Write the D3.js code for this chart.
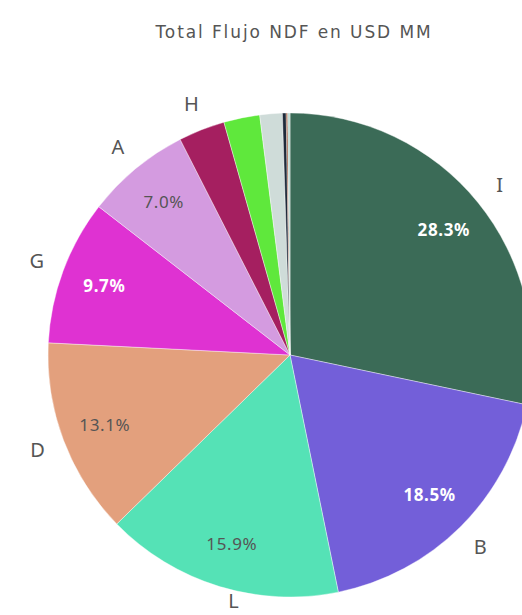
<!DOCTYPE html>
<html><head><meta charset="utf-8">
<script src="https://cdn.jsdelivr.net/npm/d3@7"></script>
<style>body{margin:0;background:#fff;overflow:hidden}svg{display:block}</style>
</head><body>
<svg id="c" width="522" height="615"></svg>
<script>
const title = "Total Flujo NDF en USD MM";
const categories = ["I","B","L","D","G","A","H","F","E","C","K","J"];
const values = [28.3,18.5,15.9,13.1,9.7,7.0,3.1,2.4,1.5,0.25,0.1,0.15];
const colors = ["#3b6b57","#735fd9","#55e2b6","#e3a07d","#df32d2","#d49be0","#a51f60","#5fe83c","#cfdcd9","#1e2a3a","#8a3a1a","#b9d9d1"];
const showOuter = [true,true,true,true,true,true,true,false,false,false,false,false];
const showInner = [true,true,true,true,true,true,false,false,false,false,false,false];
const whiteInner = [true,true,false,false,true,false];

const svg = d3.select("#c");
const cx = 290, cy = 355, r = 242;
svg.append("text").attr("x",294).attr("y",38).attr("text-anchor","middle")
  .attr("font-family","DejaVu Sans, sans-serif").attr("font-size",17).attr("letter-spacing",1.9)
  .attr("fill","#555").text(title);

const data = categories.map((c,i)=>({c, v: values[i], i}));
const total = d3.sum(values);
const pie = d3.pie().value(d=>d.v).sort(null);
const arcs = pie(data);
const arc = d3.arc().innerRadius(0).outerRadius(r);
const g = svg.append("g").attr("transform",`translate(${cx},${cy})`);
g.selectAll("path").data(arcs).join("path").attr("d",arc)
  .attr("fill",d=>colors[d.data.i]).attr("stroke","#fff").attr("stroke-width",0.4);

const inArc = d3.arc().innerRadius(198).outerRadius(198);
const outArc = d3.arc().innerRadius(270).outerRadius(270);
g.selectAll("text.in").data(arcs.filter(d=>showInner[d.data.i])).join("text")
  .attr("class","in")
  .attr("transform",d=>`translate(${inArc.centroid(d)})`)
  .attr("text-anchor","middle").attr("dy","0.35em")
  .attr("font-family","Noto Sans, sans-serif").attr("font-size",17).attr("letter-spacing",0.6)
  .attr("font-weight",d=>whiteInner[d.data.i]?"bold":"normal")
  .attr("fill",d=>whiteInner[d.data.i]?"#fff":"#555")
  .text(d=>d3.format(".1f")(d.data.v/total*100)+"%");
const maxY = 615 - cy - 14;
g.selectAll("text.out").data(arcs.filter(d=>showOuter[d.data.i])).join("text")
  .attr("class","out")
  .attr("transform",d=>{
    let [x,y] = outArc.centroid(d);
    if (y > maxY) { x += (y - maxY) * 1.9; y = maxY; }
    return `translate(${x},${y})`;
  })
  .attr("text-anchor","middle").attr("dy","0.35em")
  .attr("font-family","Noto Sans, sans-serif").attr("font-size",20)
  .attr("fill","#555").text(d=>d.data.c);
</script>
</body></html>
